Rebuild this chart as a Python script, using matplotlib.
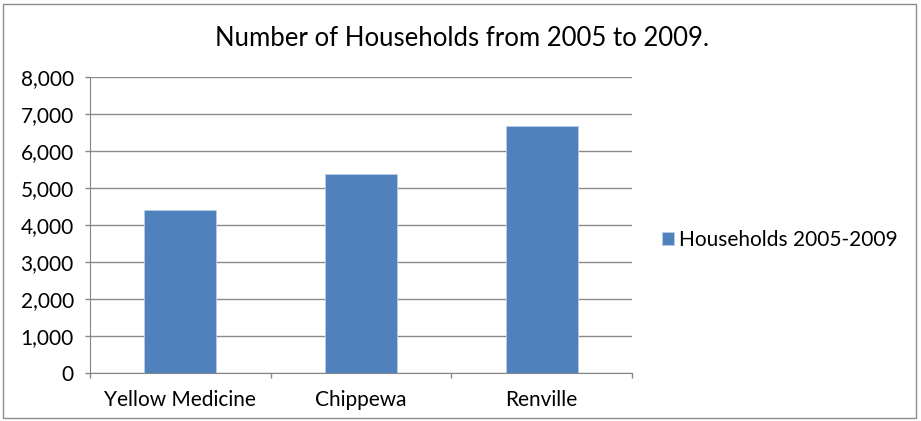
import matplotlib.pyplot as plt
from matplotlib.ticker import FuncFormatter, FixedLocator
from matplotlib.patches import Rectangle

counties = ['Yellow Medicine', 'Chippewa', 'Renville']
households = [4410, 5370, 6680]
series_name = 'Households 2005-2009'

plt.rcParams['font.family'] = ['Lato', 'DejaVu Sans']

fig = plt.figure(figsize=(9.21, 4.21), dpi=100)
ax = fig.add_axes([90 / 921, 1 - 373 / 421, (632 - 90) / 921, (373 - 77) / 421])

x = range(len(counties))
ax.bar(x, households, width=0.4, color='#4F81BD', edgecolor='#B9CDE5', linewidth=0.6,
       label=series_name, zorder=3)

ax.set_xlim(-0.5, len(counties) - 0.5)
ax.set_ylim(0, 8000)
ax.set_yticks(range(0, 8001, 1000))
ax.yaxis.set_major_formatter(FuncFormatter(lambda v, p: f'{int(v):,}'))
ax.set_xticks(list(x))
ax.set_xticklabels(counties)
ax.xaxis.set_minor_locator(FixedLocator([i - 0.5 for i in range(len(counties) + 1)]))
ax.tick_params(axis='x', which='major', length=0, pad=12, labelsize=15)
ax.tick_params(axis='x', which='minor', length=3.6, color='#868686', width=1)
ax.tick_params(axis='y', length=3.6, color='#868686', width=1, labelsize=15, pad=8)

ax.grid(axis='y', color='#8c8c8c', linewidth=1, zorder=0)
for s in ['top', 'right']:
    ax.spines[s].set_visible(False)
ax.spines['left'].set_color('#868686')
ax.spines['bottom'].set_color('#868686')

fig.text(462 / 921, 1 - 38 / 421, 'Number of Households from 2005 to 2009.', ha='center',
         va='center', fontsize=18.5)

fig.legend(loc='center left', bbox_to_anchor=(643 / 921, 1 - 240 / 421), frameon=False,
           fontsize=15, handlelength=0.6, handleheight=0.6, handletextpad=0.25)

fig.patches.append(Rectangle((3 / 921, 3 / 421), 913 / 921, 414 / 421, transform=fig.transFigure,
                             fill=False, edgecolor='#8c8c8c', linewidth=1))

fig.savefig('out.png', dpi=100)
